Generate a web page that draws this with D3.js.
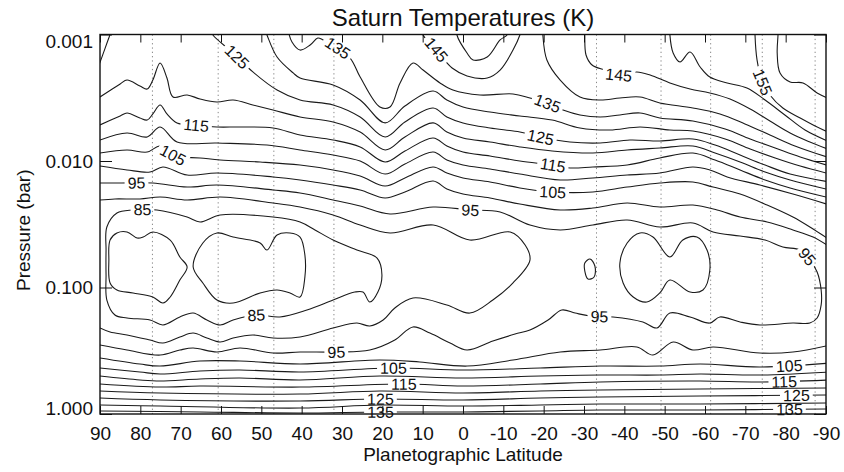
<!DOCTYPE html>
<html><head><meta charset="utf-8">
<script src="https://cdn.jsdelivr.net/npm/d3@7"></script>
<style>
html,body{margin:0;padding:0;background:#fff;}
svg{display:block;font-family:"Liberation Sans",Arial,Helvetica,sans-serif;}
</style></head><body>
<svg id="chart" width="844" height="472"></svg>
<script>
// Isotherms of Saturn's upper troposphere / stratosphere.
// Each point is [planetographic latitude (deg), log10 pressure (bar)].
const latitudeTicks = [90, 80, 70, 60, 50, 40, 30, 20, 10, 0, -10, -20, -30, -40, -50, -60, -70, -80, -90];
const pressureTicks = [0.001, 0.01, 0.1, 1];
const pressureTickLabels = ["0.001", "0.010", "0.100", "1.000"];
const jetLatitudes = [77, 60.7, 46.9, 32, -33.1, -49.1, -61.4, -74.2, -87.3];

// stratosphere
const t160 = [[-78.1,-3.036],[-78.1,-2.996],[-77.9,-2.854],[-78.6,-2.696],[-81.1,-2.625],[-84.3,-2.617],[-87.8,-2.538],[-91,-2.490]];
const t155 = [[-72.4,-3.036],[-72.4,-2.996],[-72.9,-2.799],[-74.1,-2.640],[-76.1,-2.522],[-79.3,-2.419],[-83.6,-2.340],[-87.3,-2.277],[-91,-2.221]];
const t150South = [[-51.3,-3.036],[-51.3,-2.996],[-52.1,-2.854],[-53.8,-2.783],[-56.3,-2.862],[-58.8,-2.743],[-61.2,-2.664],[-65.5,-2.617],[-70.4,-2.577],[-74.9,-2.482],[-79.8,-2.364],[-84.8,-2.245],[-91,-2.150]];
const t150Cap = [[1.5,-3.036],[1.5,-2.996],[-1.0,-2.854],[-2.5,-2.799],[-6.0,-2.822],[-9.2,-2.957],[-10.9,-2.996],[-11.2,-3.036]];
const t145South = [[-30.2,-3.036],[-30.2,-2.996],[-30.5,-2.838],[-32.0,-2.759],[-35.2,-2.719],[-38.9,-2.680],[-43.1,-2.704],[-46.4,-2.680],[-51.3,-2.617],[-56.3,-2.569],[-61.2,-2.538],[-66.2,-2.490],[-71.2,-2.411],[-76.1,-2.316],[-81.1,-2.221],[-86.0,-2.150],[-91,-2.087]];
const t145Cap = [[9.9,-3.036],[9.9,-2.996],[6.9,-2.893],[5.0,-2.814],[2.7,-2.735],[-1.0,-2.672],[-6.0,-2.656],[-9.2,-2.719],[-12.4,-2.877],[-14.1,-2.996],[-14.4,-3.036]];
const t140South = [[-19.8,-3.036],[-19.8,-2.996],[-20.8,-2.799],[-24.1,-2.640],[-29.0,-2.506],[-34.0,-2.482],[-38.9,-2.498],[-43.9,-2.506],[-48.8,-2.459],[-57.0,-2.419],[-63.7,-2.372],[-69.9,-2.293],[-76.1,-2.206],[-82.3,-2.119],[-91,-2.024]];
const t135 = [[43.4,-3.036],[42.4,-2.941],[40.4,-2.877],[37.9,-2.917],[36.0,-2.972],[34.7,-2.957],[33.0,-2.933],[28.0,-2.814],[25.5,-2.664],[20.6,-2.427],[18.1,-2.427],[15.6,-2.617],[12.4,-2.775],[9.9,-2.719],[5.7,-2.617],[2.5,-2.561],[-4.2,-2.522],[-12.4,-2.530],[-16.6,-2.498],[-20.8,-2.459],[-24.8,-2.403],[-29.0,-2.364],[-34.0,-2.348],[-38.9,-2.364],[-43.9,-2.380],[-48.8,-2.340],[-57.0,-2.316],[-65.0,-2.253],[-71.2,-2.174],[-77.4,-2.103],[-83.6,-2.032],[-91,-1.960]];
const t130 = [[49.1,-3.036],[48.6,-2.996],[46.1,-2.822],[42.1,-2.696],[40.4,-2.656],[32.2,-2.601],[25.5,-2.482],[19.3,-2.301],[14.4,-2.435],[7.4,-2.553],[4.0,-2.482],[0,-2.427],[-6.7,-2.387],[-14.1,-2.356],[-22.1,-2.324],[-29.0,-2.261],[-36.4,-2.245],[-43.9,-2.269],[-51.3,-2.245],[-57.0,-2.237],[-65.0,-2.174],[-71.2,-2.095],[-77.4,-2.024],[-83.6,-1.960],[-91,-1.897]];
const t125Polar = [[90.5,-2.74],[90,-2.78],[87.5,-3.0],[87,-3.04]];
const t125 = [[62.5,-3.036],[62.0,-2.996],[57.0,-2.854],[52.1,-2.704],[46.1,-2.561],[40.4,-2.482],[32.2,-2.443],[25.5,-2.348],[19.3,-2.190],[14.4,-2.309],[7.4,-2.419],[4.0,-2.348],[0,-2.301],[-6.7,-2.261],[-14.1,-2.229],[-19.1,-2.190],[-26.5,-2.150],[-34.0,-2.142],[-41.4,-2.166],[-48.8,-2.158],[-57.0,-2.174],[-62.5,-2.126],[-68.7,-2.047],[-74.9,-1.968],[-81.1,-1.897],[-91,-1.834]];
const t120 = [[90,-2.506],[85,-2.609],[83.3,-2.640],[80.1,-2.593],[78.3,-2.569],[76.9,-2.640],[75.1,-2.775],[73.4,-2.656],[71.9,-2.506],[68.4,-2.522],[65.2,-2.490],[61.0,-2.466],[57.0,-2.482],[52.1,-2.443],[47.1,-2.403],[40.4,-2.348],[32.2,-2.309],[25.5,-2.229],[19.3,-2.087],[14.4,-2.190],[7.4,-2.301],[4.0,-2.229],[0,-2.182],[-6.7,-2.150],[-14.1,-2.111],[-22.1,-2.079],[-32.2,-2.063],[-40.7,-2.087],[-48.8,-2.103],[-57.0,-2.119],[-62.5,-2.063],[-68.7,-1.992],[-74.9,-1.913],[-81.1,-1.850],[-91,-1.771]];
const t115 = [[90,-2.285],[85,-2.356],[83.3,-2.380],[80.1,-2.340],[78.3,-2.324],[76.9,-2.372],[75.1,-2.443],[73.4,-2.372],[70.9,-2.301],[66.9,-2.285],[61.0,-2.269],[55.3,-2.269],[47.1,-2.261],[40.4,-2.206],[32.2,-2.166],[25.5,-2.111],[19.3,-1.992],[14.4,-2.079],[7.4,-2.182],[4.0,-2.119],[0,-2.071],[-6.7,-2.040],[-14.1,-2.000],[-22.1,-1.968],[-26.5,-1.945],[-32.2,-1.953],[-40.7,-1.968],[-48.8,-2.024],[-57.0,-2.063],[-62.5,-2.008],[-68.7,-1.929],[-74.9,-1.850],[-81.1,-1.787],[-91,-1.708]];
const t110 = [[90,-2.166],[83.3,-2.221],[78.3,-2.190],[75.1,-2.269],[70.9,-2.150],[61.0,-2.142],[48.6,-2.126],[40.4,-2.087],[32.2,-2.047],[25.5,-2.000],[19.3,-1.897],[14.4,-1.976],[7.4,-2.071],[4.0,-2.008],[0,-1.968],[-6.7,-1.937],[-14.1,-1.897],[-24.1,-1.850],[-32.2,-1.866],[-40.7,-1.889],[-48.8,-1.905],[-57.0,-1.953],[-61.2,-1.929],[-65.5,-1.874],[-73.6,-1.810],[-81.8,-1.739],[-91,-1.652]];
const t105 = [[90,-2.063],[83.3,-2.087],[78.3,-2.071],[75.1,-2.119],[71.4,-2.040],[65.2,-2.024],[60.2,-2.008],[50.3,-1.992],[40.4,-1.968],[32.2,-1.929],[25.5,-1.881],[19.3,-1.802],[14.4,-1.866],[7.4,-1.953],[4.0,-1.905],[0,-1.866],[-6.7,-1.834],[-14.1,-1.787],[-22.1,-1.755],[-32.2,-1.755],[-40.7,-1.794],[-48.8,-1.826],[-57.0,-1.834],[-62.0,-1.794],[-68.7,-1.739],[-75.4,-1.652],[-81.8,-1.557],[-86.8,-1.462],[-91,-1.375]];
const t100 = [[90,-1.960],[83.3,-1.929],[77.6,-1.913],[74.4,-1.953],[68.4,-1.889],[61.0,-1.905],[47.1,-1.874],[40.4,-1.850],[32.2,-1.810],[25.5,-1.771],[19.3,-1.708],[14.4,-1.755],[7.4,-1.842],[4.0,-1.779],[0,-1.739],[-6.7,-1.708],[-14.1,-1.660],[-24.1,-1.613],[-32.2,-1.628],[-40.7,-1.668],[-48.8,-1.636],[-57.0,-1.652],[-63.0,-1.613],[-68.7,-1.557],[-75.4,-1.518],[-81.8,-1.455],[-86.8,-1.399],[-91,-1.320]];

// the 95 K isotherm wraps the whole cold tropopause band
const t95 = [[90,-1.826],[85,-1.826],[76.9,-1.826],[68.4,-1.794],[61.0,-1.810],[47.1,-1.771],[40.4,-1.747],[32.2,-1.692],[25.5,-1.644],[18.1,-1.581],[7.4,-1.636],[-1.7,-1.613],[-9.2,-1.597],[-16.6,-1.494],[-24.1,-1.455],[-32.2,-1.494],[-40.7,-1.534],[-48.8,-1.478],[-57.0,-1.510],[-62.0,-1.439],[-68.7,-1.407],[-74.9,-1.375],[-79.3,-1.320],[-83.6,-1.296],[-86.0,-1.217],[-87.8,-1.123],[-88.8,-0.980],[-88.8,-0.862],[-87.8,-0.759],[-86.0,-0.719],
  [-81.8,-0.719],[-73.6,-0.704],[-68.7,-0.727],[-63.7,-0.767],[-61.2,-0.719],[-56.3,-0.767],[-51.3,-0.798],[-48.1,-0.680],[-44.6,-0.727],[-37.2,-0.767],[-31.5,-0.775],[-27.8,-0.798],[-24.5,-0.822],[-21.1,-0.743],[-16.6,-0.664],[-12.9,-0.632],[-7.4,-0.577],[-1.0,-0.506],[3.2,-0.561],[8.2,-0.640],[12.4,-0.688],[16.9,-0.585],[23.1,-0.506],[31.2,-0.490],[40.4,-0.490],[47.1,-0.482],[55.3,-0.522],[61.0,-0.490],[66.9,-0.522],[70.2,-0.506],[75.1,-0.466],[83.3,-0.506],[90,-0.545]];
const t90 = [[90,-1.692],[86.3,-1.700],[80.1,-1.700],[75.1,-1.715],[68.4,-1.692],[60.2,-1.715],[47.1,-1.668],[40.4,-1.636],[32.2,-1.573],[25.5,-1.494],[18.1,-1.431],[7.4,-1.494],[-1.7,-1.375],[-11.7,-1.439],[-15.4,-1.336],[-16.6,-1.217],[-12.4,-1.036],[-7.4,-0.901],[-1.7,-0.798],[4.0,-0.862],[12.4,-0.917],[16.9,-0.838],[19.8,-0.743],[23.1,-0.696],[26.3,-0.719],[32.2,-0.680],[40.4,-0.609],[47.1,-0.601],[52.1,-0.625],[57.0,-0.601],[60.2,-0.569],[63.5,-0.601],[66.9,-0.640],[70.2,-0.609],[74.4,-0.561],[77.6,-0.585],[83.3,-0.625],[87.5,-0.648],[90,-0.680]];
const t90SouthLobes = [[-38.9,-1.194],[-40.7,-1.352],[-43.9,-1.431],[-47.1,-1.399],[-51.3,-1.241],[-54.5,-1.375],[-58.0,-1.399],[-60.5,-1.296],[-61.2,-1.138],[-59.5,-0.980],[-56.3,-0.964],[-51.3,-1.059],[-48.8,-0.957],[-45.6,-0.885],[-42.2,-0.925],[-39.7,-1.036]];
const t90SouthSpot = [[-30.2,-1.194],[-31.5,-1.225],[-32.7,-1.170],[-32.5,-1.083],[-31.0,-1.067],[-30.2,-1.130]];
const t85North = [[40.4,-1.518],[47.1,-1.557],[60.2,-1.573],[65.2,-1.518],[68.4,-1.557],[75.9,-1.613],[81.8,-1.613],[85.8,-1.589],[88.3,-1.478],[88.5,-1.296],[88.5,-1.099],[88.3,-0.901],[86.3,-0.783],[83.3,-0.759],[77.6,-0.743],[74.4,-0.704],[70.2,-0.767],[66.9,-0.798],[63.5,-0.743],[60.2,-0.704],[57.0,-0.743],[51.1,-0.783],[45.4,-0.767],[38.7,-0.822],[32.2,-0.901],[26.8,-0.964],[24.8,-0.964],[23.1,-0.885],[21.1,-0.964],[20.1,-1.099],[21.3,-1.233],[26.3,-1.296],[32.2,-1.375],[36.7,-1.455]];
const t80Polar = [[87.5,-1.375],[85.8,-1.431],[83.3,-1.439],[80.8,-1.391],[79.3,-1.399],[76.9,-1.439],[72.6,-1.375],[70.2,-1.241],[68.4,-1.162],[70.2,-1.059],[72.6,-0.925],[74.4,-0.877],[76.9,-0.925],[81.8,-0.957],[85.8,-0.980],[87.5,-1.036],[87.8,-1.217]];
const t80North = [[66.9,-1.162],[64.5,-1.352],[61.0,-1.431],[57.0,-1.399],[50.3,-1.352],[48.6,-1.296],[46.1,-1.415],[42.9,-1.431],[40.4,-1.399],[39.2,-1.257],[39.2,-1.083],[40.4,-0.925],[42.9,-0.957],[46.1,-0.980],[50.3,-0.957],[57.0,-0.877],[61.0,-0.901],[64.5,-1.036]];

// troposphere below the temperature minimum
const t100Low = [[90,-0.443],[80.1,-0.395],[75.1,-0.379],[65.2,-0.419],[55.3,-0.419],[40.4,-0.395],[20.6,-0.427],[10.7,-0.411],[-1.0,-0.379],[-12.4,-0.427],[-24.1,-0.490],[-34.0,-0.506],[-43.1,-0.530],[-47.1,-0.466],[-52.1,-0.569],[-57.0,-0.506],[-62.0,-0.530],[-73.6,-0.482],[-81.8,-0.490],[-91,-0.545]];
const t105Low = [[90,-0.364],[80.1,-0.332],[75.1,-0.316],[65.2,-0.340],[55.3,-0.348],[40.4,-0.332],[17.4,-0.364],[0,-0.348],[-19.1,-0.364],[-34.0,-0.379],[-48.8,-0.379],[-58.8,-0.395],[-73.6,-0.372],[-91,-0.403]];
const t110Low = [[90,-0.300],[80.1,-0.269],[75.1,-0.261],[65.2,-0.277],[55.3,-0.285],[40.4,-0.269],[20.6,-0.300],[0,-0.285],[-19.1,-0.300],[-34.0,-0.308],[-48.8,-0.308],[-58.8,-0.316],[-73.6,-0.308],[-91,-0.332]];
const t115Low = [[90,-0.237],[75.1,-0.213],[65.2,-0.221],[40.4,-0.213],[14.9,-0.237],[0,-0.221],[-19.1,-0.237],[-34.0,-0.253],[-58.8,-0.261],[-73.6,-0.253],[-91,-0.269]];
const t120Low = [[90,-0.182],[75.1,-0.166],[40.4,-0.158],[20.6,-0.182],[0,-0.166],[-19.1,-0.182],[-34.0,-0.190],[-58.8,-0.198],[-91,-0.206]];
const t125Low = [[90,-0.126],[75.1,-0.111],[40.4,-0.103],[20.6,-0.119],[0,-0.111],[-19.1,-0.126],[-34.0,-0.134],[-58.8,-0.142],[-91,-0.150]];
const t130Low = [[90,-0.071],[75.1,-0.063],[40.4,-0.047],[20.6,-0.071],[0,-0.063],[-19.1,-0.071],[-34.0,-0.079],[-58.8,-0.079],[-91,-0.087]];
const t135Low = [[90,-0.024],[65.2,-0.016],[40.4,-0.008],[20.6,-0.016],[0,-0.016],[-19.1,-0.024],[-34.0,-0.032],[-58.8,-0.032],[-91,-0.040]];

const isotherms = [
  {key: "t160", level: 160, points: t160},
  {key: "t155", level: 155, points: t155},
  {key: "t150South", level: 150, points: t150South},
  {key: "t150Cap", level: 150, points: t150Cap},
  {key: "t145South", level: 145, points: t145South},
  {key: "t145Cap", level: 145, points: t145Cap},
  {key: "t140South", level: 140, points: t140South},
  {key: "t135", level: 135, points: t135},
  {key: "t130", level: 130, points: t130},
  {key: "t125Polar", level: 125, points: t125Polar},
  {key: "t125", level: 125, points: t125},
  {key: "t120", level: 120, points: t120},
  {key: "t115", level: 115, points: t115},
  {key: "t110", level: 110, points: t110},
  {key: "t105", level: 105, points: t105},
  {key: "t100", level: 100, points: t100},
  {key: "t95", level: 95, points: t95},
  {key: "t90", level: 90, points: t90},
  {key: "t90SouthLobes", level: 90, points: t90SouthLobes, closed: true},
  {key: "t90SouthSpot", level: 90, points: t90SouthSpot, closed: true},
  {key: "t85North", level: 85, points: t85North, closed: true},
  {key: "t80Polar", level: 80, points: t80Polar, closed: true},
  {key: "t80North", level: 80, points: t80North, closed: true},
  {key: "t100Low", level: 100, points: t100Low},
  {key: "t105Low", level: 105, points: t105Low},
  {key: "t110Low", level: 110, points: t110Low},
  {key: "t115Low", level: 115, points: t115Low},
  {key: "t120Low", level: 120, points: t120Low},
  {key: "t125Low", level: 125, points: t125Low},
  {key: "t130Low", level: 130, points: t130Low},
  {key: "t135Low", level: 135, points: t135Low}
];

// where the inline level labels sit: latitude plus a pressure hint
const contourLabels = [
  {key: "t125", lat: 56, p: 0.0015},
  {key: "t115", lat: 66, p: 0.0052},
  {key: "t105", lat: 72.1, p: 0.0095},
  {key: "t95", lat: 80.8, p: 0.015},
  {key: "t85North", lat: 79.3, p: 0.025},
  {key: "t85North", lat: 51.1, p: 0.165},
  {key: "t135", lat: 31.2, p: 0.0013},
  {key: "t145Cap", lat: 6.4, p: 0.0013},
  {key: "t135", lat: -20.8, p: 0.0035},
  {key: "t125", lat: -19.1, p: 0.0065},
  {key: "t115", lat: -22.1, p: 0.0108},
  {key: "t105", lat: -22.1, p: 0.0176},
  {key: "t95", lat: -1.7, p: 0.0244},
  {key: "t145South", lat: -38.4, p: 0.0021},
  {key: "t155", lat: -74.1, p: 0.0025},
  {key: "t95", lat: -34.0, p: 0.165},
  {key: "t95", lat: -85.3, p: 0.057},
  {key: "t95", lat: 31.2, p: 0.324},
  {key: "t105Low", lat: 17.4, p: 0.43},
  {key: "t115Low", lat: 14.9, p: 0.58},
  {key: "t125Low", lat: 20.6, p: 0.76},
  {key: "t135Low", lat: 20.6, p: 0.96},
  {key: "t105Low", lat: -81.1, p: 0.425},
  {key: "t115Low", lat: -79.8, p: 0.56},
  {key: "t125Low", lat: -82.8, p: 0.73},
  {key: "t135Low", lat: -81.1, p: 0.93}
];

const W = 844, H = 472;
const plot = {left: 100, right: 826, top: 34.5, bottom: 414};
const x = d3.scaleLinear().domain([90, -90]).range([plot.left, plot.right]);
const y = d3.scaleLog().domain([0.001, 1]).range([plot.top, plot.bottom]);

const svg = d3.select("#chart");
const defs = svg.append("defs");
defs.append("clipPath").attr("id", "plotClip").append("rect")
  .attr("x", plot.left).attr("y", plot.top)
  .attr("width", plot.right - plot.left).attr("height", plot.bottom - plot.top);

// jet latitudes as dotted guides
svg.append("g").selectAll("line").data(jetLatitudes).join("line")
  .attr("x1", d => x(d)).attr("x2", d => x(d))
  .attr("y1", plot.top).attr("y2", plot.bottom)
  .attr("stroke", "#888").attr("stroke-width", 1).attr("stroke-dasharray", "1.3,3");

const lineOpen = d3.line().x(d => x(d[0])).y(d => y(Math.pow(10, d[1]))).curve(d3.curveCatmullRom.alpha(0.5));
const lineClosed = d3.line().x(d => x(d[0])).y(d => y(Math.pow(10, d[1]))).curve(d3.curveCatmullRomClosed.alpha(0.5));

const contourLayer = svg.append("g").attr("clip-path", "url(#plotClip)");
const labelLayer = svg.append("g");

isotherms.forEach((iso, i) => {
  const path = contourLayer.append("path")
    .attr("d", (iso.closed ? lineClosed : lineOpen)(iso.points))
    .attr("fill", "none").attr("stroke", "#1a1a1a").attr("stroke-width", 1.1);
  const labels = contourLabels.filter(l => l.key === iso.key);
  if (!labels.length) return;
  const node = path.node();
  const total = node.getTotalLength();
  const mask = defs.append("mask").attr("id", "lm" + i).attr("maskUnits", "userSpaceOnUse")
    .attr("x", 0).attr("y", 0).attr("width", W).attr("height", H);
  mask.append("rect").attr("width", W).attr("height", H).attr("fill", "white");
  labels.forEach(l => {
    const tx = x(l.lat), ty = y(l.p);
    let best = null, bestScore = Infinity;
    for (let s = 0; s <= total; s += 0.5) {
      const pt = node.getPointAtLength(s);
      if (Math.abs(pt.x - tx) > 1) continue;
      const score = Math.abs(pt.y - ty);
      if (score < bestScore) { bestScore = score; best = s; }
    }
    if (best === null) return;
    const p0 = node.getPointAtLength(Math.max(0, best - 6));
    const p1 = node.getPointAtLength(Math.min(total, best + 6));
    const c = node.getPointAtLength(best);
    let ang = Math.atan2(p1.y - p0.y, p1.x - p0.x) * 180 / Math.PI;
    if (ang > 90) ang -= 180;
    if (ang < -90) ang += 180;
    const text = labelLayer.append("text")
      .attr("transform", `translate(${c.x},${c.y}) rotate(${ang})`)
      .attr("text-anchor", "middle").attr("dy", "0.36em")
      .attr("font-size", 16).attr("fill", "#111")
      .text(iso.level);
    const w = text.node().getComputedTextLength() + 6;
    mask.append("rect")
      .attr("x", -w / 2).attr("y", -7).attr("width", w).attr("height", 14)
      .attr("transform", `translate(${c.x},${c.y}) rotate(${ang})`)
      .attr("fill", "black");
  });
  path.attr("mask", `url(#lm${i})`);
});

// axes
const minorLat = d3.range(90, -91, -1);
const minorP = [];
[0.001, 0.01, 0.1].forEach(dec => { for (let k = 2; k <= 9; k++) minorP.push(dec * k); });
const fmtLat = d => String(d);

const gB = svg.append("g").attr("transform", `translate(0,${plot.bottom})`);
gB.call(d3.axisBottom(x).tickValues(minorLat).tickSize(-4).tickFormat(""));
gB.call(d3.axisBottom(x).tickValues(latitudeTicks).tickSize(-8).tickPadding(13).tickFormat(fmtLat));
const gT = svg.append("g").attr("transform", `translate(0,${plot.top})`);
gT.call(d3.axisTop(x).tickValues(minorLat).tickSize(-4).tickFormat(""));
gT.call(d3.axisTop(x).tickValues(latitudeTicks).tickSize(-8).tickFormat(""));
const gL = svg.append("g").attr("transform", `translate(${plot.left},0)`);
gL.call(d3.axisLeft(y).tickValues(minorP).tickSize(-7).tickFormat(""));
gL.call(d3.axisLeft(y).tickValues(pressureTicks).tickSize(-12).tickPadding(7)
  .tickFormat((d, i) => pressureTickLabels[i]));
const gR = svg.append("g").attr("transform", `translate(${plot.right},0)`);
gR.call(d3.axisRight(y).tickValues(minorP).tickSize(-7).tickFormat(""));
gR.call(d3.axisRight(y).tickValues(pressureTicks).tickSize(-12).tickFormat(""));

svg.selectAll(".domain").remove();
svg.selectAll(".tick line").attr("stroke", "#111").attr("stroke-width", 1);
svg.selectAll(".tick text").attr("font-size", 19).attr("fill", "#111")
  .attr("font-family", '"Liberation Sans",Arial,Helvetica,sans-serif');
// keep the end labels of the pressure axis inside the frame
gL.selectAll(".tick text").attr("dy", (d, i) => i === 0 ? "0.66em" : i === pressureTicks.length - 1 ? "0.05em" : "0.32em");

svg.append("rect").attr("x", plot.left).attr("y", plot.top)
  .attr("width", plot.right - plot.left).attr("height", plot.bottom - plot.top)
  .attr("fill", "none").attr("stroke", "#111").attr("stroke-width", 1.4);

svg.append("text").attr("x", (plot.left + plot.right) / 2).attr("y", 26)
  .attr("text-anchor", "middle").attr("font-size", 24).attr("fill", "#111")
  .text("Saturn Temperatures (K)");
svg.append("text").attr("x", (plot.left + plot.right) / 2).attr("y", 461)
  .attr("text-anchor", "middle").attr("font-size", 19).attr("fill", "#111")
  .text("Planetographic Latitude");
svg.append("text").attr("transform", `translate(30,${(plot.top + plot.bottom) / 2 + 6}) rotate(-90)`)
  .attr("text-anchor", "middle").attr("font-size", 19).attr("fill", "#111")
  .text("Pressure (bar)");
</script>
</body></html>
